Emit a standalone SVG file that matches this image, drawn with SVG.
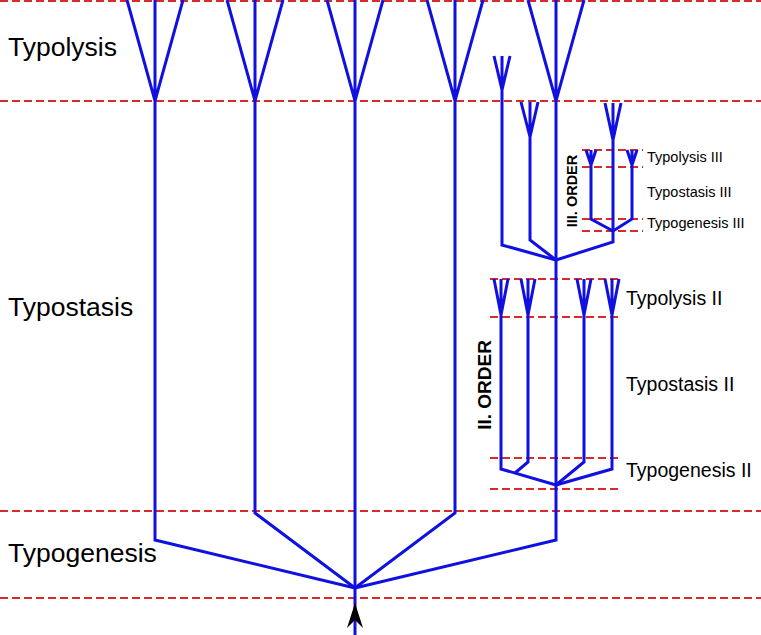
<svg xmlns="http://www.w3.org/2000/svg" width="761" height="635" viewBox="0 0 761 635">
<style>
.dash{stroke:#d92a2a;stroke-width:2;stroke-dasharray:8 4;fill:none}
.br{stroke:#1010e0;stroke-width:3;fill:none;stroke-linejoin:miter;stroke-linecap:butt}
.lbl{font-family:"Liberation Sans",Arial,sans-serif;fill:#000}
.big{font-size:26.5px}
.mid{font-size:19.5px}
.sm{font-size:14.5px}
.ord{font-weight:bold}
</style>
<rect width="761" height="635" fill="#fff"/>
<g id="levels">
<line class="dash" x1="0" y1="1" x2="761" y2="1"/>
<line class="dash" x1="0" y1="101" x2="761" y2="101"/>
<line class="dash" x1="0" y1="511" x2="761" y2="511"/>
<line class="dash" x1="0" y1="598" x2="761" y2="598"/>
<line class="dash" x1="490" y1="279" x2="622" y2="279"/>
<line class="dash" x1="490" y1="317" x2="622" y2="317"/>
<line class="dash" x1="490" y1="458" x2="622" y2="458"/>
<line class="dash" x1="490" y1="489" x2="622" y2="489"/>
<line class="dash" x1="582" y1="150" x2="643" y2="150"/>
<line class="dash" x1="582" y1="167" x2="643" y2="167"/>
<line class="dash" x1="582" y1="219" x2="643" y2="219"/>
<line class="dash" x1="582" y1="231" x2="643" y2="231"/>
</g>
<g id="connectors">
<path class="br" d="M127,0 L155,101 L183,0 M155,0 V540 L355,588"/>
<path class="br" d="M227,0 L255,101 L283,0 M255,0 V513 L355,588"/>
<path class="br" d="M327,0 L355,101 L383,0 M355,0 V635"/>
<path class="br" d="M427,0 L455,101 L483,0 M455,0 V513 L355,588"/>
<path class="br" d="M528,0 L556,101 L584,0 M556,0 V540 L355,588"/>
<path class="br" d="M494,56 L502,90 L510,56 M502,56 V245 L556,260"/>
<path class="br" d="M521,102 L530,137 L538,102 M530,102 V240 L556,260"/>
<path class="br" d="M605,103 L613,140 L621,103 M613,103 V242 L556,260"/>
<path class="br" d="M586,150 L591,165 L596,150 M591,150 V219 L613,231"/>
<path class="br" d="M627,150 L632,165 L637,150 M632,150 V219 L613,231"/>
<path class="br" d="M494,279 L501,315 L508,279 M501,279 V469 L556,485"/>
<path class="br" d="M521,279 L528,315 L535,279 M528,279 V462 L515,473"/>
<path class="br" d="M577,279 L584,315 L591,279 M584,279 V462 L556,485"/>
<path class="br" d="M605,279 L612,315 L619,279 M612,279 V469 L556,485"/>
<path d="M355,603 L363,628 L355,620 L347,628 Z" fill="#000"/>
</g>
<g id="labels">
<text class="lbl big" x="8" y="56">Typolysis</text>
<text class="lbl big" x="8" y="316">Typostasis</text>
<text class="lbl big" x="8" y="562">Typogenesis</text>
<text class="lbl mid" x="626" y="305">Typolysis II</text>
<text class="lbl mid" x="626" y="391">Typostasis II</text>
<text class="lbl mid" x="626" y="477">Typogenesis II</text>
<text class="lbl sm" x="647" y="162">Typolysis III</text>
<text class="lbl sm" x="647" y="197">Typostasis III</text>
<text class="lbl sm" x="647" y="228">Typogenesis III</text>
<text class="lbl ord" font-size="19" text-anchor="middle" transform="translate(491,385) rotate(-90)">II. ORDER</text>
<text class="lbl ord" font-size="14.5" text-anchor="middle" transform="translate(577,191) rotate(-90)">III. ORDER</text>
</g>
</svg>
